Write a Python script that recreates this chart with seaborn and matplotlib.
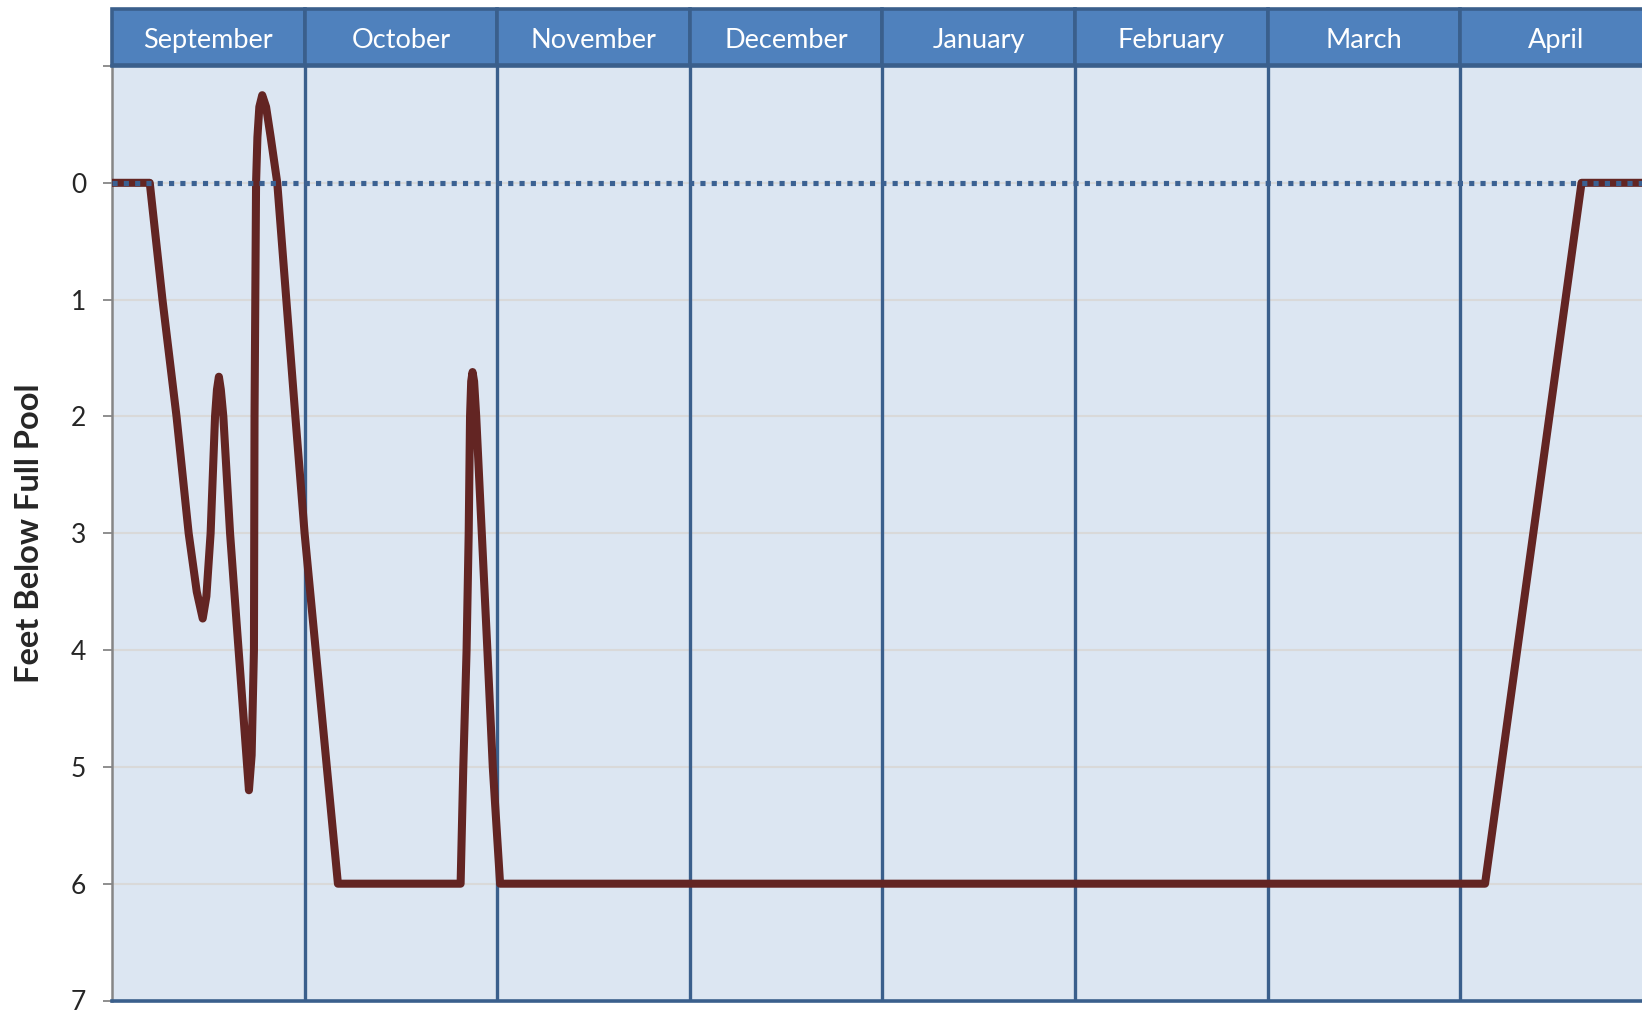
import matplotlib
matplotlib.use("Agg")
import matplotlib.pyplot as plt
import seaborn as sns

# ------------------------------------------------------------
# data (x in months from 1 September, y in feet below full pool)
# ------------------------------------------------------------
months = ["September", "October", "November", "December",
          "January", "February", "March", "April"]

pos = [0.000, 0.196, 0.262, 0.335, 0.398, 0.440, 0.471, 0.490, 0.512, 0.535,
       0.545, 0.555, 0.565, 0.578, 0.613, 0.647, 0.711, 0.725, 0.737, 0.740,
       0.748, 0.755, 0.765, 0.780, 0.800, 0.824, 0.858, 0.905, 0.952, 1.000,
       1.173, 1.810, 1.824, 1.841, 1.852, 1.859, 1.865, 1.872, 1.880, 1.891,
       1.920, 1.949, 1.977, 2.015, 7.129, 7.630, 8.000]
depth = [0.00, 0.00, 1.00, 2.00, 3.00, 3.50, 3.73, 3.54, 3.00, 2.00,
         1.77, 1.66, 1.77, 2.00, 3.00, 3.77, 5.20, 4.90, 4.00, 2.00,
         0.00, -0.39, -0.65, -0.75, -0.65, -0.39, 0.00, 1.00, 2.00, 3.00,
         6.00, 6.00, 5.00, 4.00, 3.00, 2.00, 1.70, 1.62, 1.70, 2.00,
         3.00, 4.00, 5.00, 6.00, 6.00, 0.00, 0.00]

full_pool_x = [0, 8]
full_pool_y = [0, 0]

y_ticks = [-1, 0, 1, 2, 3, 4, 5, 6, 7]
y_labels = ["", "0", "1", "2", "3", "4", "5", "6", "7"]

# colours
BG = "#DCE6F2"
HEAD = "#4F81BD"
DARK_BLUE = "#3A5F8C"
DOT_BLUE = "#3B6192"
MAROON = "#632523"
GRID = "#D9D9D9"
SPINE_GREY = "#868686"

sns.set_style("white")
plt.rcParams["font.family"] = ["Lato", "DejaVu Sans"]

W, H = 1642, 1010
fig = plt.figure(figsize=(W / 100, H / 100), dpi=100)

x0, x1 = 112, 1652.8
ax = fig.add_axes([x0 / W, 9.5 / H, (x1 - x0) / W, (1000.5 - 66) / H])
axh = fig.add_axes([x0 / W, (H - 65) / H, (x1 - x0) / W, (65 - 9) / H], sharex=ax)

# ---- main plot ----
ax.set_facecolor(BG)
ax.set_xlim(0, len(months))
ax.set_ylim(7, -1)

for y in y_ticks[1:-1]:
    ax.axhline(y, color=GRID, lw=1.5, zorder=1)

ax.vlines(range(1, len(months)), -1, 7, color=DARK_BLUE, lw=2.4, zorder=2)

sns.lineplot(x=pos, y=depth, ax=ax, color=MAROON,
             sort=False, estimator=None, zorder=3)
level = ax.lines[-1]
level.set_linewidth(5.8)
level.set_solid_capstyle("round")
level.set_solid_joinstyle("round")

sns.lineplot(x=full_pool_x, y=full_pool_y, ax=ax, color=DOT_BLUE, zorder=4)
pool = ax.lines[-1]
pool.set_linewidth(3.7)
pool.set_dashes((1.0, 1.2))
pool.set_dash_capstyle("butt")

ax.set_yticks(y_ticks)
ax.set_yticklabels(y_labels, fontsize=19)
ax.tick_params(axis="y", length=6.5, width=1.3, color=SPINE_GREY, pad=12,
               left=True)
ax.tick_params(axis="x", bottom=False, labelbottom=False)

ax.spines["right"].set_visible(False)
ax.spines["left"].set_color(SPINE_GREY)
ax.spines["left"].set_linewidth(1.8)
ax.spines["bottom"].set_color(DARK_BLUE)
ax.spines["bottom"].set_linewidth(2.6)
ax.spines["top"].set_color(DARK_BLUE)
ax.spines["top"].set_linewidth(2.6)

ax.set_ylabel("Feet Below Full Pool", fontsize=23.5, fontweight="bold")
ax.yaxis.set_label_coords(-0.044, 0.5)

# ---- month header ----
axh.set_ylim(0, 1)
axh.bar([i + 0.5 for i in range(len(months))], 1, width=1, bottom=0,
        color=HEAD, edgecolor=DARK_BLUE, linewidth=2.6, clip_on=False)
for i, m in enumerate(months):
    axh.text(i + 0.5, 0.43, m, ha="center", va="center", color="white",
             fontsize=19.5)
axh.axis("off")

fig.savefig("out.png", dpi=100)
